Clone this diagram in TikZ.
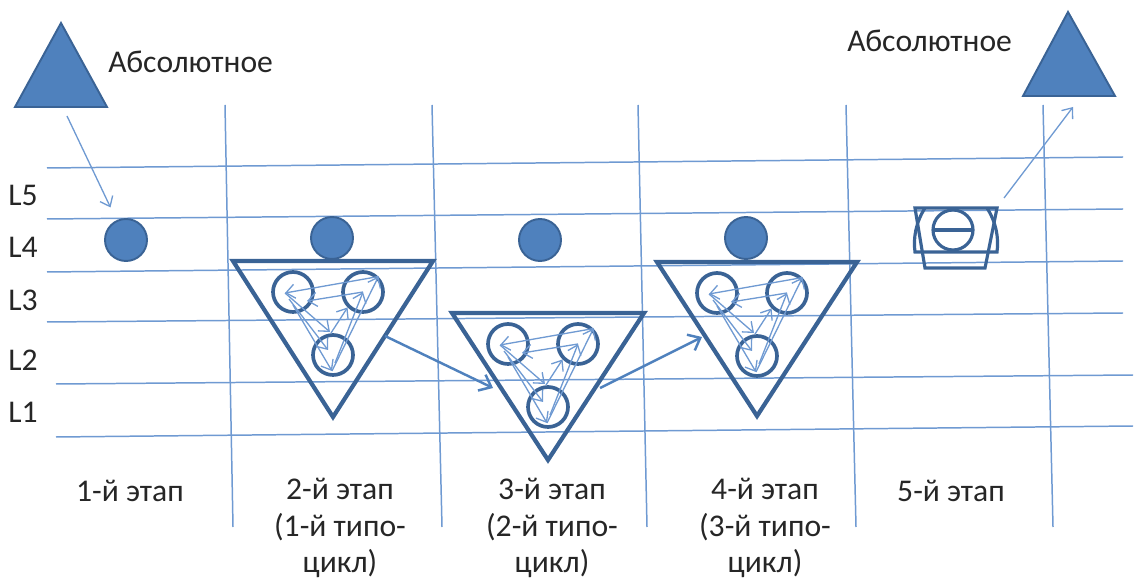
\documentclass[tikz,border=0pt]{standalone}
\usepackage{fontspec}
\setmainfont{Carlito}
\usetikzlibrary{arrows.meta}
\definecolor{bleu}{HTML}{4F81BD}
\definecolor{bleufonce}{HTML}{3A6395}
\definecolor{bleuclair}{HTML}{6F9AD2}
\definecolor{texte}{HTML}{262626}

\begin{document}
\begin{tikzpicture}[x=0.02cm,y=-0.02cm]
\tikzset{grille/.style={draw=bleuclair, line width=0.85pt},
  boule/.style={draw=bleufonce, fill=bleu, circle, line width=1.1pt, minimum size=0.84cm, inner sep=0pt},
  rond/.style={draw=bleufonce, circle, line width=2.1pt, minimum size=0.8cm, inner sep=0pt},
  cadre/.style={draw=bleufonce, line width=2.4pt, line join=miter},
  sommet/.style={draw=bleufonce, fill=bleu, line width=1.1pt},
  fleche/.style={draw=bleuclair, line width=0.75pt, -{Straight Barb[length=5pt,width=8pt]}},
  lien/.style={draw=bleu, line width=1.4pt, -{Straight Barb[length=6pt,width=10pt]}},
  etiq/.style={text=texte, font=\fontsize{18}{21}\selectfont, inner sep=0pt, align=center}}
\useasboundingbox (0,0) rectangle (1135,580);
% grid of levels and stages
\foreach \ya/\yb/\xa/\xb in {168/157/47/1123, 219/209/47/1123, 272/261/47/1123,
    322/313/47/1123, 384/375/56/1133, 437/426/56/1133}
  \draw[grille] (\xa,\ya) -- (\xb,\yb);
\foreach \xa/\xb in {225/233, 432/442, 638/647, 846/856, 1043/1053}
  \draw[grille] (\xa,105) -- (\xb,527);
\foreach \n/\y in {5/195, 4/247, 3/300, 2/360, 1/412}
  \node[etiq] (L\n) at (23,\y) {L\n};
% the absolute, at both ends
\draw[sommet] (61,23) -- (107,107) -- (15,107) -- cycle;
\node[etiq, anchor=west] (abs1) at (108,62) {Абсолютное};
\draw[sommet] (1068,12) -- (1115,96) -- (1023,96) -- cycle;
\node[etiq, anchor=west] (abs2) at (847,41) {Абсолютное};
\coordinate (haut1) at (67,116);
\coordinate (haut2) at (1073,107);
% level L4
\foreach \i/\x/\y in {1/126/240, 2/332/238, 3/540/240, 4/746/238}
  \node[boule] (b\i) at (\x,\y) {};
\draw[fleche] (haut1) -- (b1) [shorten >=8pt];
% the three typo-cycles
\foreach \i/\cx/\cy/\w/\h in {2/333/261/100/156, 3/548/313/96/147, 4/757/262/100/154} {
  \begin{scope}[shift={(\cx,\cy)}]
  \draw[cadre] (-\w,0) -- (\w,0) -- (0,\h) -- cycle;
  \node[rond] (A\i) at (-40,31) {};
  \node[rond] (B\i) at (30,31) {};
  \node[rond] (C\i) at (0,94) {};
  \coordinate (G\i) at (-55,75);
  \coordinate (D\i) at (52,75);
  \draw[fleche] (B\i.45) -- ([shift={(-8,1)}]A\i.center);
  \draw[fleche] (B\i.center) -- ([shift={(14,9)}]A\i.center);
  \draw[fleche] ([shift={(-8,1)}]A\i.center) -- ([shift={(-3,-23)}]C\i.center);
  \draw[fleche] ([shift={(-4,7)}]A\i.center) -- ([shift={(-5,-5)}]C\i.center);
  \draw[fleche] ([shift={(0,13)}]A\i.center) -- ([shift={(-1,16)}]C\i.center);
  \draw[fleche] ([shift={(-1,16)}]C\i.center) -- (B\i.45);
  \draw[fleche] ([shift={(2,8)}]C\i.center) -- (B\i.center);
  \draw[fleche] ([shift={(-2,-22)}]C\i.center) -- (B\i.225);
  \end{scope}
}
\draw[lien] (D2) -- (G3);
\draw[lien] (D3) -- (G4);
% stage 5
\begin{scope}[cadre, line width=1.8pt]
\draw (915,208) -- (997,208) -- (985,268) -- (925,268) -- cycle;
\draw (925,208) .. controls (916,222) and (913,238) .. (915,252) -- (997,252)
  .. controls (999,238) and (996,222) .. (987,208);
\draw (953,230) circle (20);
\draw (933,230) -- (973,230);
\end{scope}
\coordinate (sym) at (1004,198);
\draw[fleche] (sym) -- (haut2);
% stages
\node[etiq] (e1) at (130,491) {1-й этап};
\node[etiq] (e2) at (340,528) {2-й этап\\(1-й типо-\\цикл)};
\node[etiq] (e3) at (552,528) {3-й этап\\(2-й типо-\\цикл)};
\node[etiq] (e4) at (765,528) {4-й этап\\(3-й типо-\\цикл)};
\node[etiq] (e5) at (951,491) {5-й этап};
\end{tikzpicture}
\end{document}
